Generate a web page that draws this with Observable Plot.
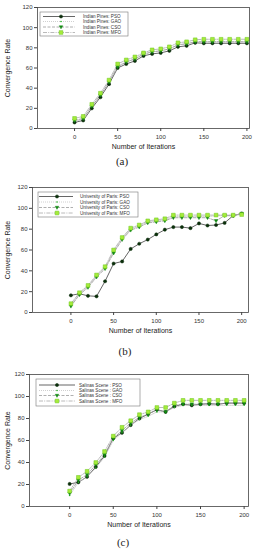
<!DOCTYPE html>
<html><head><meta charset="utf-8">
<script src="https://cdn.jsdelivr.net/npm/d3@7"></script>
<script src="https://cdn.jsdelivr.net/npm/@observablehq/plot@0.6"></script>
<style>
body{margin:0;background:#fff;width:255px;height:550px;position:relative;overflow:hidden;font-family:"Liberation Sans",Arial,sans-serif}
.panel{position:absolute;left:0}
.cap{position:absolute;font-family:"Liberation Serif","DejaVu Serif",serif;font-size:11px;color:#222;transform:translateX(-50%)}
</style></head><body>
<script>
const iterations = [0,10,20,30,40,50,60,70,80,90,100,110,120,130,140,150,160,170,180,190,200];
const algorithms = ["PSO","GAO","CSO","MFO"];
const yTicks = [0,20,40,60,80,100,120];
const xTicks = [0,50,100,150,200];

const aPSO = [6,8,20,31,44,60,64,67,72,74,75,77,81,82,85,84.5,84.5,84.5,84.5,84.5,84.5];
const aGAO = [7,9,22,33,46,62,66,69,73,76,77,79,83,84,86,86,86,86,86,86,86];
const aCSO = [8,10,22,33,46,61,66,69,74,76,77,79,83,84,86,86,86,86,86,86,86];
const aMFO = [10,12,24,35,48,64,68,71,75,78,79,81,85,86,88,88.5,88.5,88.5,88.5,88.5,88.5];

const bPSO = [16.5,18,16,15.5,30,47,49,61,66,70,75,79.5,82,82,81,85.5,83.5,84,86,93,95];
const bGAO = [7,18,25,35,43,58,71,80,83,87,88,89,92,92,92,92,92,93,93,93,95];
const bCSO = [6,17,24,34,42,57,70,79,82,86,87,88,91,91,91,91,91,88,93,93,95];
const bMFO = [8.5,19,26,36,44,60,72,81,84,88,89,90,93.5,93.5,93.5,93.5,93.5,93.5,93.5,93.5,94];

const cPSO = [20.5,22,27,36,46,62,67,74,80,84,88,86,91,93,92,93,93.5,93,94,94,94];
const cGAO = [10,22,27,35,45,60,67,74,79,82,86,86,90,92,92,92,92,92,92,92,92];
const cCSO = [12,24,29,38,47,62,69,76,81,84,88,86,92,93,93,93,93,93,94,94,94];
const cMFO = [14,26.5,32,40,50,64,72,78,83.5,86,90,90,94,96.5,96.5,96.5,96.5,96.5,96.5,96.5,96.5];

const datasetNames = ["Indian Pines: ", "University of Paris: ", "Salinas Scene : "];
const captions = ["(a)","(b)","(c)"];

const triDown = {draw(ctx, size){ const r = Math.sqrt(size/Math.PI)*1.1; ctx.moveTo(0, r); ctx.lineTo(-r*0.95, -r*0.65); ctx.lineTo(r*0.95, -r*0.65); ctx.closePath(); }};

const styles = {
  PSO: {line:"#555", dash:null, w:0.9, symbol:"circle", r:1.6, fill:"#0b2e0b", stroke:"#0b2e0b"},
  GAO: {line:"#c4c4c4", dash:"1,1", w:0.8, symbol:"circle", r:0.8, fill:"#2ab52a", stroke:"none"},
  CSO: {line:"#9a9a9a", dash:"3,1.5", w:0.8, symbol:triDown, r:1.7, fill:"#138a13", stroke:"#138a13"},
  MFO: {line:"#a8a8a8", dash:"4,1.2,1,1.2", w:0.8, symbol:"square", r:2.1, fill:"#a6ec3a", stroke:"#6cc61e"}
};

const panels = [
  {top:0, height:152, mt:7, mb:24, ml:37, mr:6, dom:[-43,203], series:[aPSO,aGAO,aCSO,aMFO], capY:155, capX:122,
   legend:{x:40,y:12,w:88,h:24,lx0:43,lx1:75,mx:61,tx:83,rows:[16.5,21.5,27,32.5]}},
  {top:180, height:157, mt:7, mb:25, ml:32, mr:7, dom:[-45,208], series:[bPSO,bGAO,bCSO,bMFO], capY:345, capX:125,
   legend:{x:38,y:192,w:100,h:25,lx0:39,lx1:73,mx:57,tx:80,rows:[196.5,202,207.5,213]}},
  {top:360, height:170, mt:14, mb:24, ml:29, mr:7, dom:[-46,205], series:[cPSO,cGAO,cCSO,cMFO], capY:536, capX:123,
   legend:{x:36,y:379,w:104,h:27,lx0:39,lx1:75,mx:57,tx:79,rows:[385,390.5,395.5,401]}}
];

panels.forEach((p, pi) => {
  const marks = [];
  algorithms.forEach((alg, ai) => {
    const s = styles[alg];
    const rows = iterations.map((it, i) => ({it, v: p.series[ai][i]}));
    marks.push(Plot.line(rows, {x:"it", y:"v", stroke:s.line, strokeWidth:s.w, strokeDasharray:s.dash}));
  });
  algorithms.forEach((alg, ai) => {
    const s = styles[alg];
    const rows = iterations.map((it, i) => ({it, v: p.series[ai][i]}));
    marks.push(Plot.dot(rows, {x:"it", y:"v", symbol:()=>s.symbol, r:s.r, fill:s.fill, stroke:s.stroke, strokeWidth:0.5}));
  });
  marks.push(Plot.frame({stroke:"#444", strokeWidth:0.8}));
  marks.push(Plot.axisX({ticks:xTicks, tickSize:3, tickPadding:3, fontSize:6, label:"Number of Iterations", labelAnchor:"center", labelOffset:20, labelArrow:"none", stroke:"#444"}));
  marks.push(Plot.axisY({ticks:yTicks, tickSize:3, tickPadding:2, fontSize:6, label:"Convergence Rate", labelAnchor:"center", labelOffset:p.ml-5, labelArrow:"none", stroke:"#444"}));
  const chart = Plot.plot({
    width:255, height:p.height, marginTop:p.mt, marginBottom:p.mb, marginLeft:p.ml, marginRight:p.mr,
    style:{fontFamily:"Liberation Sans, Arial, sans-serif", color:"#333", fontSize:"6px", background:"transparent"},
    x:{domain:p.dom},
    y:{domain:[0,120]},
    symbol:{type:"identity"},
    marks
  });
  const wrap = document.createElement("div");
  wrap.className = "panel";
  wrap.style.top = p.top + "px";
  wrap.appendChild(chart);
  document.body.appendChild(wrap);
  d3.select(chart).selectAll("[aria-label='x-axis label'] text, [aria-label='y-axis label'] text").attr("font-size", 7).attr("fill","#222");

  const L = p.legend;
  const svg = d3.select(document.body).append("svg")
    .attr("width",255).attr("height",550)
    .style("position","absolute").style("left","0").style("top","0").style("pointer-events","none");
  svg.append("rect").attr("x",L.x).attr("y",L.y).attr("width",L.w).attr("height",L.h)
    .attr("fill","#fff").attr("stroke","#777").attr("stroke-width",0.6);
  algorithms.forEach((alg, ai) => {
    const s = styles[alg];
    const y = L.rows[ai];
    svg.append("line").attr("x1",L.lx0).attr("x2",L.lx1).attr("y1",y).attr("y2",y)
      .attr("stroke",s.line).attr("stroke-width",s.w).attr("stroke-dasharray",s.dash);
    const sym = typeof s.symbol === "string" ? (s.symbol === "circle" ? d3.symbolCircle : d3.symbolSquare) : s.symbol;
    svg.append("path").attr("transform",`translate(${L.mx},${y})`)
      .attr("d", d3.symbol(sym, s.r*s.r*Math.PI)())
      .attr("fill",s.fill).attr("stroke",s.stroke).attr("stroke-width",0.5);
    svg.append("text").attr("x",L.tx).attr("y",y).attr("dy","0.35em")
      .attr("font-size",4.6).attr("fill","#333").attr("font-family","Liberation Sans, Arial, sans-serif")
      .text(datasetNames[pi] + alg);
  });

  const cap = document.createElement("div");
  cap.className = "cap";
  cap.style.left = p.capX + "px";
  cap.style.top = p.capY + "px";
  cap.textContent = captions[pi];
  document.body.appendChild(cap);
});
</script>
</body></html>
